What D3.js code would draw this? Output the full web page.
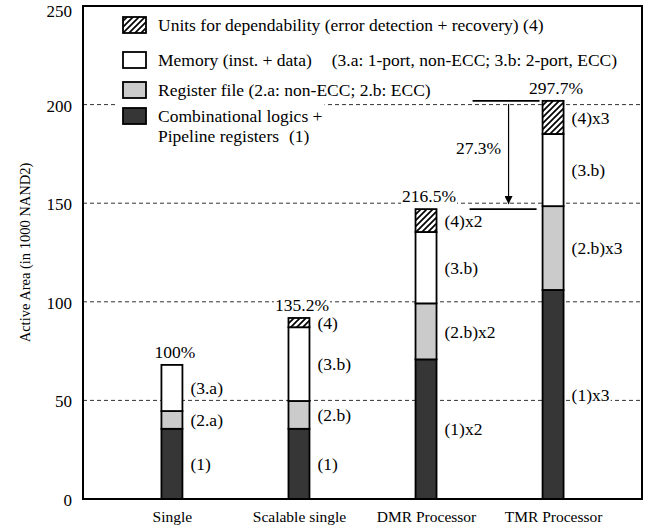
<!DOCTYPE html>
<html><head><meta charset="utf-8">
<script src="https://cdn.jsdelivr.net/npm/d3@7"></script>
<style>
body{margin:0;background:#fff}
svg text{font-family:"Liberation Serif","DejaVu Serif",serif;fill:#000}
</style></head><body>
<svg id="chart" width="652" height="529" font-family="Liberation Serif, serif"></svg>
<script>
// ---- data ----
const categories = ["Single", "Scalable single", "DMR Processor", "TMR Processor"];
const combLogic = [35.6, 35.6, 70.8, 106.0];
const regFile = [9.0, 14.1, 28.4, 42.5];
const memory = [23.4, 37.4, 36.2, 36.6];
const dependability = [0, 4.7, 11.6, 16.8];
const totalLabels = ["100%", "135.2%", "216.5%", "297.7%"];
const combLabels = ["(1)", "(1)", "(1)x2", "(1)x3"];
const regLabels = ["(2.a)", "(2.b)", "(2.b)x2", "(2.b)x3"];
const memLabels = ["(3.a)", "(3.b)", "(3.b)", "(3.b)"];
const depLabels = ["", "(4)", "(4)x2", "(4)x3"];
const yTicks = [0, 50, 100, 150, 200, 250];
const gridTicks = [50, 100, 150, 200];
const legendMain = ["Units for dependability (error detection + recovery) (4)",
  "Memory (inst. + data)", "Register file (2.a: non-ECC; 2.b: ECC)", "Combinational logics +"];
const legendExtra = ["", "(3.a: 1-port, non-ECC; 3.b: 2-port, ECC)", "", ""];
const legendLine2 = ["", "", "", "Pipeline registers"];
const legendLine2Extra = ["", "", "", "(1)"];
const diffLabel = "27.3%";
const yTitle = "Active Area (in 1000 NAND2)";

// ---- setup ----
const SERIF = '"Liberation Serif","DejaVu Serif",serif';
const keys = ["comb", "reg", "mem", "dep"];
const table = categories.map((c, i) => ({
  cat: c, comb: combLogic[i], reg: regFile[i], mem: memory[i], dep: dependability[i],
  labels: {comb: combLabels[i], reg: regLabels[i], mem: memLabels[i], dep: depLabels[i]},
  totalLabel: totalLabels[i]
}));
const stacked = d3.stack().keys(keys)(table);

const svg = d3.select("#chart");
const L = 83, R = 642, T = 6, B = 499;
const x = d3.scalePoint().domain(categories).range([L, R]).padding(0.7);
const y = d3.scaleLinear().domain([0, 250]).range([B, T]);
const bw = 21;
const FS = 17.5;

const defs = svg.append("defs");
const pat = defs.append("pattern").attr("id", "hatch").attr("patternUnits", "userSpaceOnUse")
  .attr("width", 6).attr("height", 6);
pat.append("rect").attr("width", 6).attr("height", 6).attr("fill", "#fff");
pat.append("path").attr("d", "M-1,1 l2,-2 M0,6 l6,-6 M5,7 l2,-2")
  .attr("stroke", "#000").attr("stroke-width", 1.7);
defs.append("marker").attr("id", "arrow").attr("viewBox", "0 0 10 10")
  .attr("refX", 10).attr("refY", 5).attr("markerWidth", 8).attr("markerHeight", 8)
  .attr("markerUnits", "userSpaceOnUse").attr("orient", "auto")
  .append("path").attr("d", "M0,0 L10,5 L0,10 z").attr("fill", "#000");

const fills = {comb: "#363636", reg: "#cbcbcb", mem: "#ffffff", dep: "url(#hatch)"};

// gridlines
svg.append("g").selectAll("line").data(gridTicks).join("line")
  .attr("x1", L).attr("x2", R).attr("y1", d => y(d)).attr("y2", d => y(d))
  .attr("stroke", "#333").attr("stroke-width", 1).attr("stroke-dasharray", "4,3");

// legend
const legendOrder = ["dep", "mem", "reg", "comb"];
const legendY = [25, 60, 90, 116];
const lg = svg.append("g");
legendOrder.forEach((k, i) => {
  const g = lg.append("g");
  const bg = g.append("rect").attr("fill", "#fff");
  const cy = legendY[i];
  g.append("rect").attr("x", 123).attr("y", cy - 8).attr("width", 23).attr("height", 16)
    .attr("fill", fills[k]).attr("stroke", "#000").attr("stroke-width", 1.8);
  const t = g.append("text").attr("x", 158).attr("y", cy).attr("dy", "0.35em")
    .style("font-family", SERIF).style("font-size", FS + "px").text(legendMain[i]);
  if (legendExtra[i]) t.append("tspan").attr("dx", 20).text(legendExtra[i]);
  if (legendLine2[i]) {
    const t2 = g.append("text").attr("x", 158).attr("y", cy + 20).attr("dy", "0.35em")
      .style("font-family", SERIF).style("font-size", FS + "px").text(legendLine2[i]);
    t2.append("tspan").attr("dx", 10).text(legendLine2Extra[i]);
  }
  const bb = g.node().getBBox();
  bg.attr("x", bb.x - 8).attr("y", bb.y - 5).attr("width", bb.width + 10).attr("height", bb.height + 4);
});

// bars
stacked.forEach(layer => {
  const k = layer.key;
  svg.append("g").selectAll("rect").data(layer.filter(d => d[1] - d[0] > 0)).join("rect")
    .attr("x", d => x(d.data.cat) - bw / 2).attr("width", bw)
    .attr("y", d => y(d[1])).attr("height", d => y(d[0]) - y(d[1]))
    .attr("fill", fills[k]).attr("stroke", "#000").attr("stroke-width", 1.8);
});

// label helper with white background
function bgText(parent, tx, ty, str, anchor) {
  const g = parent.append("g");
  const bg = g.append("rect").attr("fill", "#fff");
  const t = g.append("text").attr("x", tx).attr("y", ty).attr("dy", "0.35em")
    .attr("text-anchor", anchor).style("font-family", SERIF).style("font-size", FS + "px").text(str);
  const bb = t.node().getBBox();
  bg.attr("x", bb.x - 1).attr("y", bb.y + 2).attr("width", bb.width + 2).attr("height", bb.height - 4);
}

const labG = svg.append("g");
stacked.forEach(layer => {
  layer.forEach(d => {
    const s = d.data.labels[layer.key];
    if (!s || d[1] - d[0] <= 0) return;
    bgText(labG, x(d.data.cat) + bw / 2 + 8, (y(d[0]) + y(d[1])) / 2, s, "start");
  });
});
// total labels
const tops = stacked[stacked.length - 1];
tops.forEach(d => {
  bgText(labG, x(d.data.cat) + 3, y(d[1]) - 13, d.data.totalLabel, "middle");
});

// annotation between DMR and TMR totals
const tmrTop = y(tops[3][1]), dmrTop = y(tops[2][1]);
const tmrLeft = x(categories[3]) - bw / 2;
const an = svg.append("g");
an.append("line").attr("x1", tmrLeft - 70).attr("x2", tmrLeft - 3).attr("y1", tmrTop).attr("y2", tmrTop)
  .attr("stroke", "#000").attr("stroke-width", 1.6);
an.append("line").attr("x1", tmrLeft - 73).attr("x2", tmrLeft - 6).attr("y1", dmrTop).attr("y2", dmrTop)
  .attr("stroke", "#000").attr("stroke-width", 1.6);
an.append("line").attr("x1", tmrLeft - 34).attr("x2", tmrLeft - 34).attr("y1", tmrTop + 3).attr("y2", dmrTop - 5)
  .attr("stroke", "#000").attr("stroke-width", 1.2).attr("marker-end", "url(#arrow)");
an.append("text").attr("x", tmrLeft - 64).attr("y", (tmrTop + dmrTop) / 2 - 7).attr("dy", "0.35em")
  .attr("text-anchor", "middle").style("font-family", SERIF).style("font-size", FS + "px").text(diffLabel);

// frame
svg.append("rect").attr("x", L).attr("y", T).attr("width", R - L).attr("height", B - T)
  .attr("fill", "none").attr("stroke", "#000").attr("stroke-width", 2);

// axes
const ya = svg.append("g").attr("transform", `translate(${L},0)`)
  .call(d3.axisLeft(y).tickValues(yTicks).tickSize(0).tickPadding(11));
ya.select(".domain").remove();
ya.attr("font-family", null);
ya.selectAll("text").attr("dy", d => d === 250 ? "0.62em" : "0.38em")
  .style("font-size", "17px").style("font-family", SERIF);

const xa = svg.append("g").attr("transform", `translate(0,${B})`)
  .call(d3.axisBottom(x).tickSize(0).tickPadding(12));
xa.select(".domain").remove();
xa.attr("font-family", null);
xa.selectAll("text").style("font-size", "15.5px").style("font-family", SERIF);

svg.append("text").attr("transform", `translate(25,${(T + B) / 2}) rotate(-90)`)
  .attr("text-anchor", "middle").attr("dy", "0.35em")
  .style("font-family", SERIF).style("font-size", "14.5px").text(yTitle);
</script>
</body></html>
